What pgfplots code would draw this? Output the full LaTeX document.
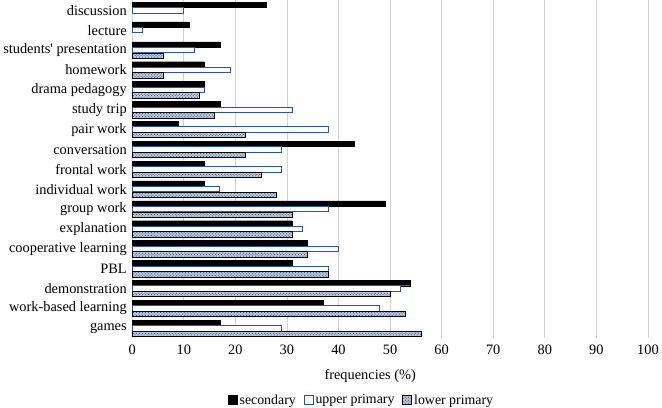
\documentclass[border=0pt]{standalone}
\usepackage{pgfplots}
\pgfplotsset{compat=1.18}
\usepackage{fontspec}
\setmainfont{Liberation Serif}
\usetikzlibrary{patterns}
\definecolor{upblue}{HTML}{2F5597}
\definecolor{lowfill}{HTML}{B8C8E0}
\begin{document}
\begin{tikzpicture}
\begin{axis}[
  scale only axis,
  width=519bp, height=340bp,
  xbar, bar width=5.4bp,
  xmin=0, xmax=100, ymin=-0.5, ymax=16.5,
  xtick={0,10,...,100},
  ytick={0,...,16},
  yticklabels={games,work-based learning,demonstration,PBL,cooperative learning,explanation,group work,individual work,frontal work,conversation,pair work,study trip,drama pedagogy,homework,students\textquotesingle\ presentation,lecture,discussion},
  /pgf/number format/assume math mode=true,
  tick label style={font=\fontsize{14.5}{16}\selectfont},
  yticklabel style={xshift=-2bp},
  xticklabel style={yshift=-3bp},
  label style={font=\fontsize{14.5}{16}\selectfont},
  xlabel={frequencies (\%)},
  xlabel style={yshift=-8bp, xshift=-20bp},
  major tick length=0pt,
  axis line style={draw=none},
  xmajorgrids, grid style={draw=gray!35, line width=0.8pt},
  legend style={at={(0.445,-0.160)}, anchor=north, legend columns=3, draw=none, inner sep=0pt, font=\fontsize{14}{16}\selectfont, /tikz/every even column/.append style={column sep=6bp}},
  legend image code/.code={\draw[#1] (0bp,-4.5bp) rectangle (9bp,4.5bp);},
]
\addplot[fill=black, draw=black, bar shift=5.6bp] coordinates {
(17,0) (37,1) (54,2) (31,3) (34,4) (31,5) (49,6) (14,7) (14,8) (43,9) (9,10) (17,11) (14,12) (14,13) (17,14) (11,15) (26,16)};
\addlegendentry{secondary}
\addplot[fill=white, draw=upblue, line width=0.9pt, bar shift=0bp] coordinates {
(29,0) (48,1) (52,2) (38,3) (40,4) (33,5) (38,6) (17,7) (29,8) (29,9) (38,10) (31,11) (14,12) (19,13) (12,14) (2,15) (10,16)};
\addlegendentry{upper primary}
\addplot[fill=lowfill, draw=black, line width=0.9pt, bar shift=-5.6bp, postaction={pattern=crosshatch dots, pattern color=upblue!70!black}] coordinates {
(56,0) (53,1) (50,2) (38,3) (34,4) (31,5) (31,6) (28,7) (25,8) (22,9) (22,10) (16,11) (13,12) (6,13) (6,14)};
\addlegendentry{lower primary}
\end{axis}
\end{tikzpicture}
\end{document}
